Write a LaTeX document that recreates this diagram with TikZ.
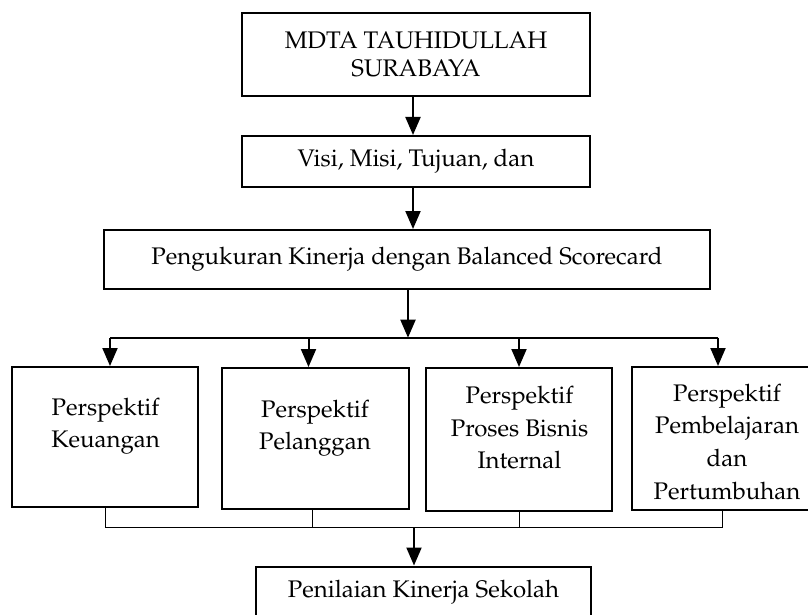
\documentclass[tikz,border=0pt]{standalone}
\usepackage[T1]{fontenc}
\usepackage{mathpazo}
\usetikzlibrary{arrows.meta}

\begin{document}
\begin{tikzpicture}[x=0.5pt, y=-0.5pt,
  kotak/.style={draw, line width=1pt, align=center, inner sep=0pt, font=\fontsize{12}{14}\selectfont},
  teks/.style={align=center, inner sep=0pt, font=\fontsize{12}{16.3}\selectfont},
  panah/.style={line width=1pt, -{Triangle[length=9pt, width=7.5pt]}},
  garis/.style={line width=0.5pt}]
\useasboundingbox (0,0) rectangle (808,615);
\clip (0,0) rectangle (808,615);

\node [kotak, minimum width=174pt, minimum height=41.5pt] (mdta) at (416,54.5) {MDTA TAUHIDULLAH\\SURABAYA};
\node [kotak, minimum width=174pt, minimum height=25.5pt] (visi) at (416,161.5) {Visi, Misi, Tujuan, dan};
\node [kotak, minimum width=303pt, minimum height=29.5pt] (bsc) at (407,259.5) {Pengukuran Kinerja dengan Balanced Scorecard};

\node [kotak, minimum width=93pt, minimum height=70pt] (keu) at (105,437) {};
\node [kotak, minimum width=93.5pt, minimum height=70.5pt] (pel) at (315.5,438.5) {};
\node [kotak, minimum width=93pt, minimum height=71.5pt] (pbi) at (519,439.5) {};
\node [kotak, minimum width=95pt, minimum height=71.5pt] (pdp) at (727,438.5) {};
\node [teks] (keut) at (105.6,426) {Perspektif\\Keuangan};
\node [teks] (pelt) at (315,428.3) {Perspektif\\Pelanggan};
\node [teks] (pbit) at (519.5,427.8) {Perspektif\\Proses Bisnis\\Internal};
\node [teks] (pdpt) at (727,441.8) {Perspektif\\Pembelajaran\\dan\\Pertumbuhan};

\node [kotak, minimum width=167.5pt, minimum height=26pt] (nilai) at (423.5,592.5) {Penilaian Kinerja Sekolah};

\coordinate (bagi) at (408,337.7);
\coordinate (gabung) at (414,527.7);

\draw[panah] ([xshift=-1.5pt]mdta.south) -- ([xshift=-1.5pt]visi.north);
\draw[panah] ([xshift=-1.5pt]visi.south) -- ([xshift=-1.5pt]visi.south |- bsc.north);
\draw[panah] (bagi |- bsc.south) -- (bagi);
\draw[line width=1pt] ([xshift=2.5pt]keu.north |- bagi) -- ([xshift=-4.5pt]pdp.north |- bagi);
\draw[panah] ([xshift=2.5pt]keu.north |- bagi) -- ([xshift=2.5pt]keu.north);
\draw[panah] ([xshift=-3.5pt]pel.north |- bagi) -- ([xshift=-3.5pt]pel.north);
\draw[panah] (pbi.north |- bagi) -- (pbi.north);
\draw[panah] ([xshift=-4.5pt]pdp.north |- bagi) -- ([xshift=-4.5pt]pdp.north);

\draw[garis] (keu.south) -- (keu.south |- gabung);
\draw[garis] ([xshift=-1.5pt]pel.south) -- ([xshift=-1.5pt]pel.south |- gabung);
\draw[garis] (pbi.south) -- (pbi.south |- gabung);
\draw[garis] ([xshift=-2.2pt]pdp.south) -- ([xshift=-2.2pt]pdp.south |- gabung);
\draw[garis] (keu.south |- gabung) -- ([xshift=-2.2pt]pdp.south |- gabung);
\draw[panah] (gabung) -- (gabung |- nilai.north);
\end{tikzpicture}
\end{document}
